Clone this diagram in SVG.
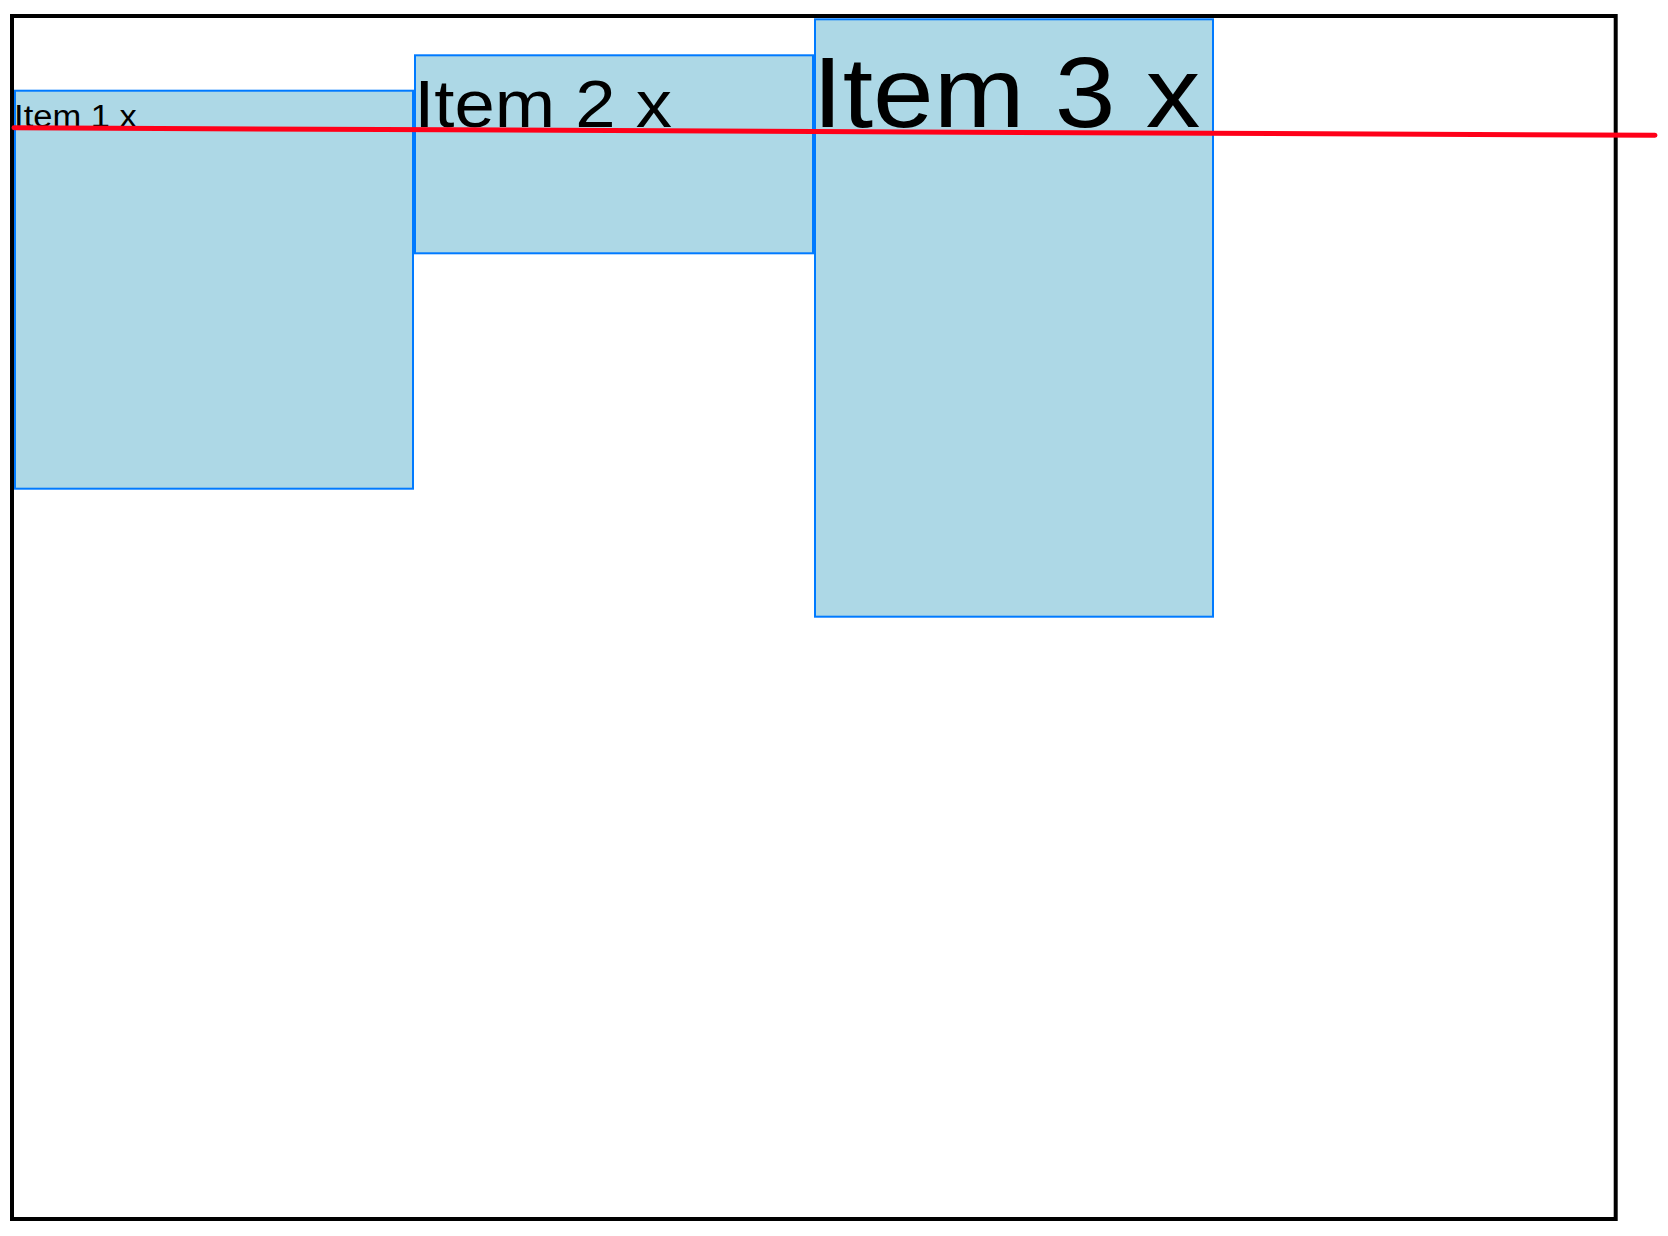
<svg xmlns="http://www.w3.org/2000/svg" width="1668" height="1236" viewBox="0 0 1668 1236">
<style>
.item rect{fill:#ADD8E6;stroke:#007AFF;stroke-width:2}
.item text{font-family:"Liberation Sans",Arial,Helvetica,sans-serif;fill:#000}
</style>
<rect width="1668" height="1236" fill="#fff"/>
<g id="container">
<rect x="12" y="16" width="1603.7" height="1203" fill="#fff" stroke="#000" stroke-width="4"/>
</g>
<g id="item1" class="item">
<rect x="15" y="90.7" width="398" height="398"/>
<text x="14.1" y="126.6" font-size="31" textLength="122.7" lengthAdjust="spacingAndGlyphs">Item 1 x</text>
</g>
<g id="item2" class="item">
<rect x="415" y="55.3" width="398" height="198"/>
<text x="414.2" y="127.3" font-size="67" textLength="257.9" lengthAdjust="spacingAndGlyphs">Item 2 x</text>
</g>
<g id="item3" class="item">
<rect x="815" y="19.3" width="398" height="597.4"/>
<text x="812.4" y="127" font-size="101" textLength="388" lengthAdjust="spacingAndGlyphs">Item 3 x</text>
</g>
<g id="connectors">
<line x1="14" y1="127.8" x2="1655" y2="135.3" stroke="#FF0019" stroke-width="5" stroke-linecap="round"/>
</g>
</svg>
